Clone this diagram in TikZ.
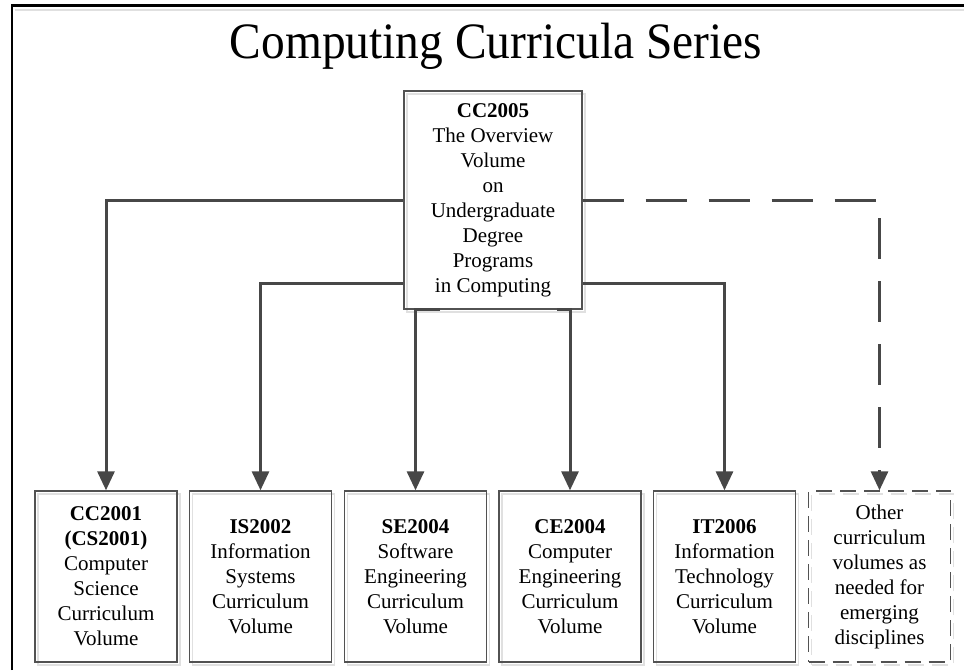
\documentclass[tikz,border=0pt]{standalone}
\usepackage{fontspec}
\setmainfont{Liberation Serif}
\usetikzlibrary{arrows.meta}

% a box with its pale offset shadow outline drawn first
\newcommand\curbox[4]{%
  \node[ghostbox,#3] (#1-sh) at (#2) {};
  \node[frontbox,#3] (#1) at (#2) {#4};
}

\begin{document}
\begin{tikzpicture}[x=1pt,y=-1pt,
  boxbase/.style={rectangle, inner sep=0pt, align=center,
    font=\fontsize{21}{25}\selectfont, line width=1.4pt},
  frontbox/.style={boxbase, draw=black!68, text=black},
  ghostbox/.style={boxbase, draw=black!12, xshift=3pt, yshift=-3pt},
  lowbox/.style={minimum width=142pt, minimum height=171pt},
  topbox/.style={minimum width=178pt, minimum height=218pt},
  dashbox/.style={dash pattern=on 16pt off 8pt},
  link/.style={line width=3pt, draw=black!72, line join=miter,
    -{Triangle[length=19pt,width=17pt]}},
  dashlink/.style={link, dash pattern=on 41pt off 22pt},
]
\useasboundingbox (0,0) rectangle (964,670);
\fill[white] (0,0) rectangle (964,670);

% page frame
\draw[black!12, line width=2pt] (15,9.5) -- (964,9.5);
\draw[black, line width=2.6pt] (12,670) -- (12,5.5) -- (964,5.5);

% title, set slightly narrow
\node[anchor=base, inner sep=0pt, font=\fontsize{51}{51}\selectfont] (title) at (496,58)
  {\scalebox{0.93}[1]{Computing Curricula Series}};

% overview volume
\curbox{cc05}{493,200}{topbox}{\textbf{CC2005}\\The Overview\\Volume\\on\\Undergraduate\\Degree\\Programs\\in Computing}

% discipline volumes
\curbox{cs}{106,576.5}{lowbox}{\textbf{CC2001}\\\textbf{(CS2001)}\\Computer\\Science\\Curriculum\\Volume}
\curbox{is}{260.5,576.5}{lowbox}{\textbf{IS2002}\\Information\\Systems\\Curriculum\\Volume}
\curbox{se}{415.5,576.5}{lowbox}{\textbf{SE2004}\\Software\\Engineering\\Curriculum\\Volume}
\curbox{ce}{570,576.5}{lowbox}{\textbf{CE2004}\\Computer\\Engineering\\Curriculum\\Volume}
\curbox{it}{724.5,576.5}{lowbox}{\textbf{IT2006}\\Information\\Technology\\Curriculum\\Volume}
\curbox{oth}{879.5,576.5}{lowbox,dashbox}{Other\\curriculum\\volumes as\\needed for\\emerging\\disciplines}

% connection points on the overview box
\coordinate (cwl) at ([yshift=-83pt]cc05.west);
\coordinate (cwr) at ([yshift=-83pt]cc05.east);
\coordinate (csl) at ([xshift=-53pt]cc05.south);
\coordinate (csr) at ([xshift=64pt]cc05.south);

% connectors
\draw[link] (cc05.west) -| (cs.north);
\draw[link] (cwl) -| (is.north);
\draw[link] (csl) -| (se.north);
\draw[link] (csr) -| (ce.north);
\draw[link] (cwr) -| (it.north);
\draw[dashlink] (cc05.east) -| (oth.north);
\end{tikzpicture}
\end{document}
